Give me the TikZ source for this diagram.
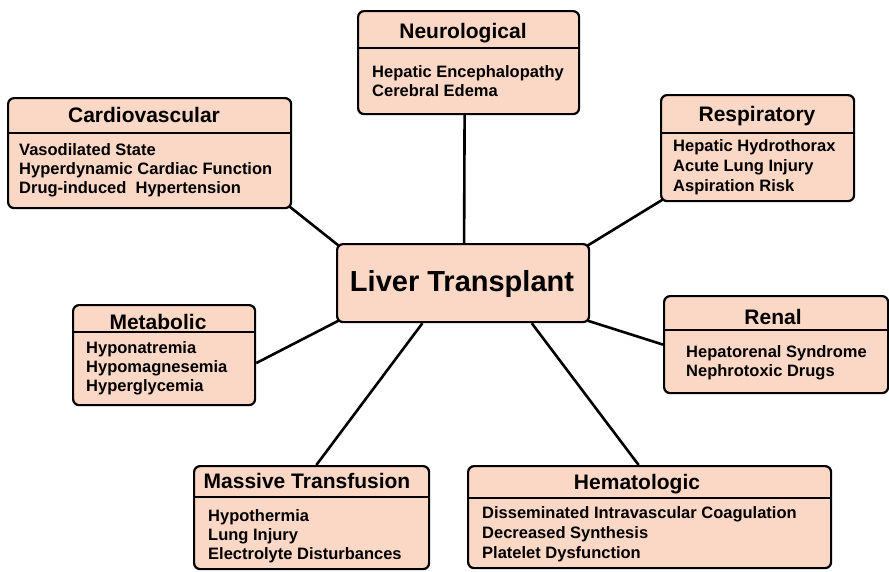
\documentclass[tikz,border=0pt]{standalone}
\usepackage{fontspec}
\setmainfont{Liberation Sans}
\usetikzlibrary{calc}
\definecolor{peach}{RGB}{251,215,198}
\tikzset{
  box/.style={draw=black, line width=2.2pt, rounded corners=6pt, fill=peach, anchor=north west, inner sep=0pt},
  divider/.style={line width=1.6pt},
  link/.style={line width=2.6pt},
  title/.style={anchor=base, inner sep=0pt, font=\fontsize{21}{24}\selectfont\bfseries},
  item/.style={anchor=base west, inner sep=0pt, font=\fontsize{16.5}{19}\selectfont\bfseries},
  big/.style={anchor=base, inner sep=0pt, font=\fontsize{29}{32}\selectfont\bfseries}
}
\begin{document}
\begin{tikzpicture}[x=1pt,y=-1pt]
\useasboundingbox (0,0) rectangle (889,571);
% boxes
\node[box, minimum width=221pt, minimum height=103pt] (neuro) at (357,10) {};
\node[box, minimum width=283pt, minimum height=110pt] (cardio) at (7,97) {};
\node[box, minimum width=193pt, minimum height=106pt] (resp) at (660,94) {};
\node[box, minimum width=252pt, minimum height=78pt] (lt) at (336,243) {};
\node[box, minimum width=182pt, minimum height=100pt] (meta) at (72,304) {};
\node[box, minimum width=224pt, minimum height=97pt] (renal) at (663,295) {};
\node[box, minimum width=235pt, minimum height=103pt] (mt) at (193,465) {};
\node[box, minimum width=363pt, minimum height=102pt] (hema) at (467,465) {};
% dividers
\draw[divider] ($(neuro.north west)+(0,38)$) -- ($(neuro.north east)+(0,38)$);
\draw[divider] ($(cardio.north west)+(0,36)$) -- ($(cardio.north east)+(0,36)$);
\draw[divider] ($(resp.north west)+(0,39)$) -- ($(resp.north east)+(0,39)$);
\draw[divider] ($(meta.north west)+(0,28)$) -- ($(meta.north east)+(0,28)$);
\draw[divider] ($(renal.north west)+(0,35)$) -- ($(renal.north east)+(0,35)$);
\draw[divider] ($(mt.north west)+(0,32)$) -- ($(mt.north east)+(0,32)$);
\draw[divider] ($(hema.north west)+(0,33)$) -- ($(hema.north east)+(0,33)$);
% connectors
\draw[link] ($(neuro.south)+(-4,0)$) -- ($(lt.north)+(1,0)$);
\draw[link] ($(cardio.south east)+(-2.5,-2.5)$) -- ($(lt.north west)+(2.5,2.5)$);
\draw[link] ($(resp.south west)+(2.5,-2.5)$) -- ($(lt.north east)+(-2.5,2.5)$);
\draw[link] ($(meta.east)+(0,8)$) -- ($(lt.south west)+(2.5,-2.5)$);
\draw[link] (renal.west) -- ($(lt.south east)+(-2.5,-2.5)$);
\draw[link] ($(mt.north west)!0.52!(mt.north east)$) -- ($(lt.south west)!0.34!(lt.south east)$);
\draw[link] ($(hema.north west)!0.47!(hema.north east)$) -- ($(lt.south west)!0.77!(lt.south east)$);
% titles
\node[title] (tneuro) at (463,38.5) {Neurological};
\node[title] (tcardio) at (144,122.5) {Cardiovascular};
\node[title] (tresp) at (757,121.5) {Respiratory};
\node[title] (trenal) at (773,324) {Renal};
\node[title] (tmeta) at (158,329) {Metabolic};
\node[title] (tmt) at (307,488.5) {Massive Transfusion};
\node[title] (thema) at (637,489) {Hematologic};
\node[big] (tlt) at (462,291.5) {Liver Transplant};
% items
\node[item] (n1) at (372,77.5) {Hepatic Encephalopathy};
\node[item] (n2) at (372,96.5) {Cerebral Edema};
\node[item] (c1) at (19,155) {Vasodilated State};
\node[item] (c2) at (19,174) {Hyperdynamic Cardiac Function};
\node[item] (c3) at (19,193) {Drug-induced\ \ Hypertension};
\node[item] (r1) at (673,151) {Hepatic Hydrothorax};
\node[item] (r2) at (673,171) {Acute Lung Injury};
\node[item] (r3) at (673,191) {Aspiration Risk};
\node[item] (k1) at (686,357.5) {Hepatorenal Syndrome};
\node[item] (k2) at (686,376.5) {Nephrotoxic Drugs};
\node[item] (m1) at (86,353) {Hyponatremia};
\node[item] (m2) at (86,372) {Hypomagnesemia};
\node[item] (m3) at (86,391) {Hyperglycemia};
\node[item] (t1) at (208,521) {Hypothermia};
\node[item] (t2) at (208,540) {Lung Injury};
\node[item] (t3) at (208,559) {Electrolyte Disturbances};
\node[item] (h1) at (482,518) {Disseminated Intravascular Coagulation};
\node[item] (h2) at (482,538) {Decreased Synthesis};
\node[item] (h3) at (482,558) {Platelet Dysfunction};
\end{tikzpicture}
\end{document}
